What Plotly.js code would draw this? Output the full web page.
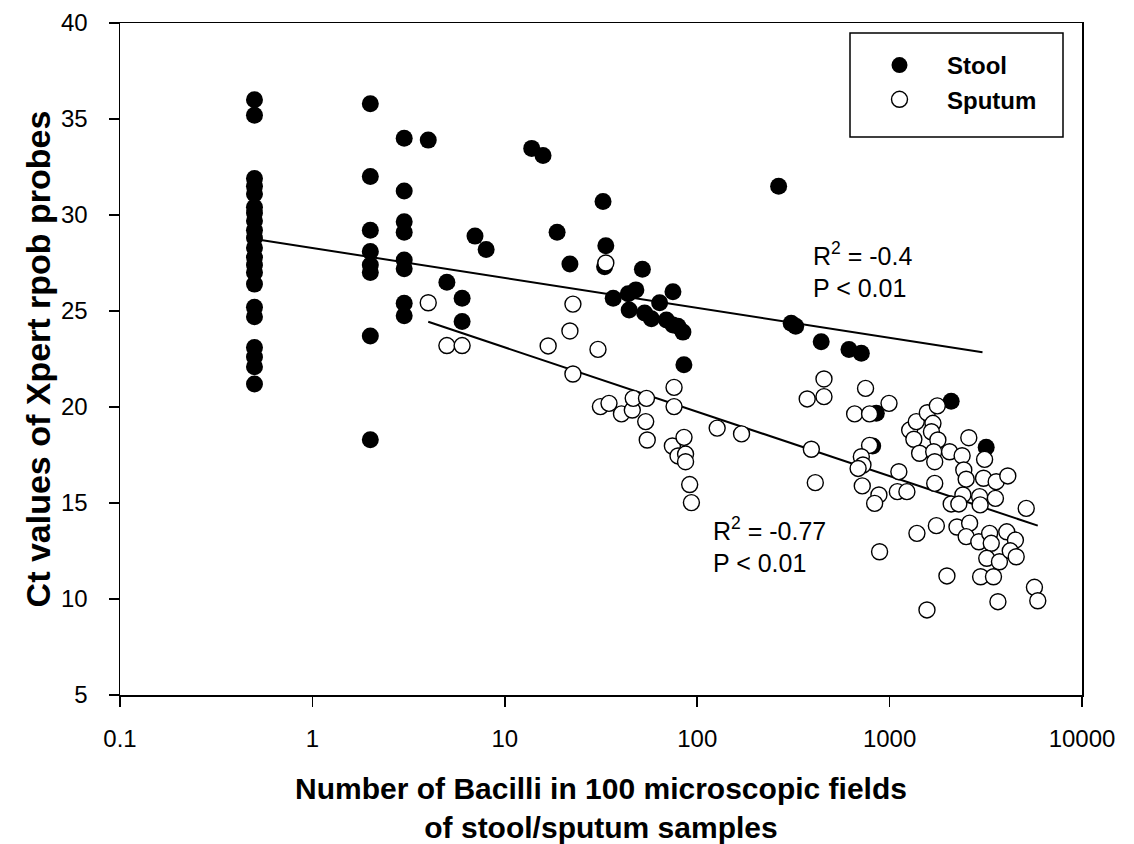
<!DOCTYPE html>
<html>
<head>
<meta charset="utf-8">
<script src="https://cdn.plot.ly/plotly-3.0.1.min.js"></script>
<style>html,body{margin:0;padding:0;background:#fff;}#chart{width:1134px;height:844px;}</style>
</head>
<body>
<div id="chart"></div>
<script>
// Stool samples (filled circles)
const stoolX = [0.5,0.5,0.5,0.5,0.5,0.5,0.5,0.5,0.5,0.5,0.5,0.5,0.5,0.5,0.5,0.5,0.5,0.5,0.5,0.5,0.5,
  2,2,2,2,2,2,2,2,
  3,3,3,3,3,3,3,3,
  4,5,6,6,7,8,13.8,15.8,18.7,21.8,32.4,33.5,33,36.6,43.8,48,44.3,51.9,53.3,57.8,63.8,69.2,74.8,74.8,79.4,84.3,85.3,
  265,308,325,441,615,713,853,817,2089,3177];
const stoolY = [36.0,35.2,31.9,31.5,31.1,30.4,30.1,29.7,29.2,28.8,28.3,27.8,27.4,27.0,26.4,25.2,24.7,23.1,22.6,22.1,21.2,
  35.8,32.0,29.2,28.1,27.4,27.0,23.7,18.3,
  34.0,31.25,29.65,29.1,27.65,27.2,25.4,24.75,
  33.9,26.5,25.66,24.45,28.9,28.2,33.47,33.1,29.1,27.45,30.7,28.4,27.3,25.66,25.9,26.1,25.05,27.17,24.9,24.6,25.43,24.53,26.0,24.27,24.2,23.9,22.2,
  31.5,24.36,24.2,23.4,23.0,22.8,19.67,17.97,20.3,17.9];

// Sputum samples (open circles)
const sputumX = [4,5,6,16.8,21.8,22.6,22.6,30.5,33.5,31.4,34.8,40.4,46,46.5,54.5,54,55,75.8,75.8,74.3,85.4,79.5,87,87,91.4,93.3,
  127,170,373,456,456,392,411,750,658,787,993,787,713,727,686,721,880,836,887,
  1117,1097,1230,1271,1376,1570,1770,1337,1680,1650,1782,1432,1695,1716,2050,1716,1387,1750,1986,1564,
  2382,2580,2430,2500,2404,2090,2290,2240,2606,2500,2909,3077,3580,4115,3117,2937,2955,3548,3311,3376,
  4064,4508,3199,3724,4237,4550,2972,3467,3656,5130,5660,5890];
const sputumY = [25.43,23.2,23.2,23.18,23.96,25.36,21.72,23.0,27.5,20.02,20.19,19.64,19.84,20.45,20.45,19.24,18.28,21.02,20.02,17.97,18.42,17.45,17.55,17.15,15.96,15.02,
  18.9,18.6,20.42,21.46,20.54,17.8,16.06,20.97,19.64,19.64,20.19,18.0,17.41,16.98,16.8,15.89,15.42,14.98,12.46,
  16.63,15.59,15.59,18.8,19.24,19.7,20.06,18.32,19.15,18.71,18.28,17.59,17.67,17.15,17.67,16.02,13.42,13.82,11.2,9.43,
  17.46,18.4,16.72,16.24,15.42,14.95,14.95,13.75,13.95,13.25,12.98,16.29,16.11,16.41,17.27,15.33,14.9,15.24,13.42,12.9,
  13.5,13.07,12.12,11.94,12.51,12.2,11.16,11.16,9.86,14.72,10.61,9.91];

// Regression lines (end points)
const fitStoolX = [0.5, 3040];
const fitStoolY = [28.75, 22.85];
const fitSputumX = [4, 5890];
const fitSputumY = [24.44, 13.82];

// Axis ticks
const xTickVals = [0.1, 1, 10, 100, 1000, 10000];
const xTickText = ['0.1', '1', '10', '100', '1000', '10000'];
const yTickVals = [5, 10, 15, 20, 25, 30, 35, 40];

const FONT = 'Liberation Sans, Arial, Helvetica, sans-serif';

const traces = [
  {x: fitStoolX, y: fitStoolY, mode: 'lines', line: {color: '#000', width: 2}, showlegend: false, hoverinfo: 'skip'},
  {x: fitSputumX, y: fitSputumY, mode: 'lines', line: {color: '#000', width: 2}, showlegend: false, hoverinfo: 'skip'},
  {x: stoolX, y: stoolY, mode: 'markers', name: 'Stool',
   marker: {symbol: 'circle', size: 17, color: '#000', line: {width: 0}}},
  {x: sputumX, y: sputumY, mode: 'markers', name: 'Sputum',
   marker: {symbol: 'circle', size: 16, color: '#fff', line: {color: '#000', width: 1.4}}}
];

const L = 120, R = 1082, T = 23, B = 695;
const px = v => (v - L) / (R - L);
const py = v => (B - v) / (B - T);

const layout = {
  width: 1134, height: 844,
  margin: {l: L, r: 1134 - R, t: T, b: 844 - B},
  paper_bgcolor: '#fff', plot_bgcolor: '#fff',
  font: {family: FONT, color: '#000'},
  xaxis: {
    type: 'log', range: [-1, 4],
    tickvals: xTickVals, ticktext: xTickText,
    ticks: 'outside', ticklen: 10, tickwidth: 1.5, tickcolor: '#000',
    ticklabelstandoff: 12,
    tickfont: {size: 24, family: FONT},
    showline: true, linecolor: '#000', linewidth: 1.5, mirror: true,
    showgrid: false, zeroline: false,
    title: {text: 'Number of Bacilli in 100 microscopic fields<br>of stool/sputum samples',
            font: {size: 30, family: FONT, weight: 'bold'}, standoff: 30}
  },
  yaxis: {
    range: [5, 40], tickvals: yTickVals,
    ticks: 'outside', ticklen: 10, tickwidth: 1.5, tickcolor: '#000',
    ticklabelstandoff: 16,
    tickfont: {size: 24, family: FONT},
    showline: true, linecolor: '#000', linewidth: 1.5, mirror: true,
    showgrid: false, zeroline: false,
    title: {text: 'Ct values of Xpert rpob probes',
            font: {size: 34, family: FONT, weight: 'bold'}, standoff: 0}
  },
  legend: {
    x: px(852), y: py(43), xanchor: 'left', yanchor: 'top',
    borderwidth: 0, bgcolor: 'rgba(0,0,0,0)',
    font: {size: 24, family: FONT, weight: 'bold'},
    itemwidth: 85, tracegroupgap: 0
  },
  shapes: [
    {type: 'rect', xref: 'paper', yref: 'paper', x0: px(850), x1: px(1063), y0: py(137), y1: py(33),
     line: {color: '#000', width: 1.5}, fillcolor: 'rgba(255,255,255,0)', layer: 'below'}
  ],
  annotations: [
    {xref: 'paper', yref: 'paper', x: px(811), y: py(270), xanchor: 'left', yanchor: 'middle',
     text: 'R<sup>2</sup> = -0.4<br>P < 0.01', align: 'left', showarrow: false,
     font: {size: 25, family: FONT}},
    {xref: 'paper', yref: 'paper', x: px(711), y: py(545), xanchor: 'left', yanchor: 'middle',
     text: 'R<sup>2</sup> = -0.77<br>P < 0.01', align: 'left', showarrow: false,
     font: {size: 25, family: FONT}}
  ],
  showlegend: true
};

Plotly.newPlot('chart', traces, layout, {displayModeBar: false, staticPlot: true});
</script>
</body>
</html>
